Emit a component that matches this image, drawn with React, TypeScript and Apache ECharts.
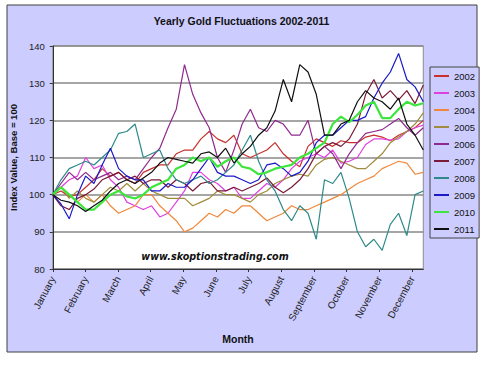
import React, { useEffect, useRef } from "react";
import * as echarts from "echarts";

const MONTHS = ["January", "February", "March", "April", "May", "June", "July", "August", "September", "October", "November", "December"];
const YEARS = ["2002", "2003", "2004", "2005", "2006", "2007", "2008", "2009", "2010", "2011"];
const Y_TICKS = [80, 90, 100, 110, 120, 130, 140];
// months covered by the plotted period and number of steps between samples
const SPAN = 11.35;
const STEPS = 45;

const v2002 = [100, 101, 99.5, 100, 102, 104, 107, 105, 106, 104, 103, 106, 107, 108, 108, 111, 112, 112, 115, 117, 115, 114, 116, 111, 110, 111, 112, 114, 111, 109, 107.5, 113, 115, 114, 113, 114.5, 114, 114, 115.5, 116, 115.5, 114.5, 116, 117, 118, 120];
const v2003 = [100, 102, 104, 105, 110, 107, 108, 104, 102, 98, 97, 96, 97, 94, 95, 98, 101, 106, 106, 104, 103, 101, 102, 99, 99, 101, 103, 102, 104, 107, 109, 110, 111, 110, 112, 108.5, 109, 110, 113.5, 115, 115, 114.7, 115, 117, 118, 118.7];
const v2004 = [100, 102, 100, 98, 100, 98, 100, 97, 95, 96, 97, 100, 100, 97, 95, 93, 90, 91, 93, 95, 94, 96, 95, 97, 97, 95, 93, 94, 95, 97, 96, 96, 97, 98, 99, 100, 101.5, 103, 104, 105, 107, 108, 109, 108.5, 105.5, 106];
const v2005 = [100, 102, 99, 101, 99, 98, 100, 102, 101, 103, 101, 103, 101, 100, 99, 99, 99, 97, 98, 99, 101, 100, 100, 99, 98, 100, 101, 103, 104, 105, 105.5, 105, 108, 109.5, 110, 109, 108, 107, 107, 109, 111, 114, 115.5, 117, 119, 122];
const v2006 = [100, 103, 106, 104, 106, 104, 105, 106, 104, 105, 104, 107, 110, 112.5, 118, 123, 135, 127, 122, 118, 110, 106, 112, 119, 123, 118, 117, 120, 119, 116, 116, 120, 111, 113, 111, 107, 111, 114, 116.5, 117, 117.5, 119, 120.5, 118, 116, 118];
const v2007 = [100, 97, 96, 99, 100, 101.5, 104, 105, 106, 104, 105, 103, 104, 104, 102, 104, 103, 101, 103, 103.5, 101, 101, 102, 101, 102, 103, 104.5, 102, 100.5, 102, 104, 107, 111, 113, 114, 113, 115, 119, 127, 131, 126, 128, 125.5, 128, 124.5, 129.5];
const v2008 = [100, 104, 107, 108, 109, 108, 110, 112, 116.5, 117, 119, 110, 111, 112, 107, 104, 103, 104, 105, 103, 104, 106, 108, 112, 116, 109, 104, 101, 96, 93, 97, 95, 88, 104, 103, 106, 99, 90, 86, 88, 85, 92, 95, 89, 100, 101];
const v2009 = [100, 97.5, 93.5, 100, 105, 103, 108, 112.5, 107, 105, 104, 104, 101, 101, 103, 102, 102, 104, 107, 110, 106, 105, 105, 104, 103, 104, 108, 108.5, 107, 105, 106, 109, 114, 116, 116, 118, 120, 120, 121, 126, 130, 133, 138, 131, 129, 125];
const v2010 = [100, 102, 100, 98, 96, 96, 98, 100, 101, 99.5, 99, 100, 102, 103, 104, 107, 108, 110, 109, 110, 107.5, 109, 110, 107.5, 107, 105.5, 106, 107, 107.5, 108, 110, 111, 112.5, 114, 119, 121, 119.5, 121.5, 124, 125, 120.6, 120.6, 123, 125, 124, 124.6];
const v2011 = [100, 98.5, 98, 97, 95.5, 97, 98.5, 101, 103, 104, 103, 104.5, 106, 108.5, 110, 109.5, 109, 108.5, 111, 111.5, 110, 112.5, 108.5, 111, 113, 116, 118, 122.5, 131, 125, 135, 133, 127, 116, 116, 119, 120, 125, 128, 126, 125, 123, 126, 119, 116, 112];

const COLORS = ["#C8322D", "#E040E0", "#F0883C", "#A08C3C", "#8E2A8E", "#7A1A38", "#2E8A8A", "#1A1AC8", "#3CE63C", "#101010"];

const FONT = "'Liberation Sans', Arial, sans-serif";

export default function App() {
  const ref = useRef<HTMLDivElement>(null);
  useEffect(() => {
    if (!ref.current) return;
    const chart = echarts.init(ref.current, undefined, { renderer: "svg" });
    const all = [v2002, v2003, v2004, v2005, v2006, v2007, v2008, v2009, v2010, v2011];
    const monthIdx = MONTHS.map((_, i) => i);
    const series = all.map((vals, k) => ({
      name: YEARS[k],
      type: "line",
      data: vals.map((v, i) => [(i * SPAN) / STEPS, v]),
      showSymbol: false,
      symbol: "none",
      silent: true,
      lineStyle: { color: COLORS[k], width: k === 8 ? 2.2 : 1.2 },
      itemStyle: { color: COLORS[k] },
      emphasis: { disabled: true },
    }));
    chart.setOption({
      animation: false,
      backgroundColor: "#ffffff",
      textStyle: { fontFamily: FONT },
      graphic: [
        {
          type: "rect",
          shape: { x: 7, y: 5, width: 470, height: 347 },
          style: { fill: "#CCCCFF", stroke: "#404040", lineWidth: 1 },
          z: -10,
          silent: true,
        },
        {
          type: "text",
          x: 215,
          y: 256,
          z: 100,
          silent: true,
          style: {
            text: "www.skoptionstrading.com",
            font: "italic bold 9.6px 'DejaVu Sans', Verdana, sans-serif",
            fill: "#111111",
            textAlign: "center",
            textVerticalAlign: "middle",
          },
        },
      ],
      title: {
        text: "Yearly Gold Fluctuations 2002-2011",
        left: "center",
        top: 15,
        padding: 0,
        textStyle: { fontFamily: FONT, fontSize: 10.5, fontWeight: "bold", color: "#111111" },
      },
      legend: {
        orient: "vertical",
        left: 430,
        top: 67,
        icon: "rect",
        itemWidth: 15,
        itemHeight: 2,
        itemGap: 7,
        padding: [4, 4, 4, 4],
        backgroundColor: "#CCCCFF",
        borderColor: "#444444",
        borderWidth: 1,
        selectedMode: false,
        textStyle: { fontFamily: FONT, fontSize: 9.5, color: "#111111" },
        data: YEARS,
      },
      grid: {
        left: 42.3,
        right: 59.7,
        top: 46,
        bottom: 98,
        show: true,
        backgroundColor: "#ffffff",
        borderColor: "#8c8c8c",
        borderWidth: 1,
      },
      xAxis: {
        type: "value",
        min: 0,
        max: SPAN,
        interval: 1,
        axisLine: { show: true, onZero: false, lineStyle: { color: "#333333", width: 1 } },
        axisTick: { show: true, length: 3, customValues: monthIdx, lineStyle: { color: "#333333" } },
        axisLabel: {
          customValues: monthIdx,
          formatter: (v: number) => MONTHS[Math.round(v)] ?? "",
          rotate: 62,
          fontSize: 10,
          color: "#222222",
          margin: 8,
          fontFamily: FONT,
        },
        splitLine: { show: false },
        name: "Month",
        nameLocation: "middle",
        nameGap: 64,
        nameTextStyle: { fontFamily: FONT, fontWeight: "bold", fontSize: 10.5, color: "#111111" },
      },
      yAxis: {
        type: "value",
        min: Y_TICKS[0],
        max: Y_TICKS[Y_TICKS.length - 1],
        interval: 10,
        axisLine: { show: true, lineStyle: { color: "#333333", width: 1 } },
        axisTick: { show: true, length: 3, lineStyle: { color: "#333333" } },
        axisLabel: { fontSize: 9.5, color: "#222222", margin: 8, fontFamily: FONT },
        splitLine: { show: true, lineStyle: { color: "#888888", width: 1.5 } },
        name: "Index Value, Base = 100",
        nameLocation: "middle",
        nameGap: 24,
        nameTextStyle: { fontFamily: FONT, fontWeight: "bold", fontSize: 9.5, color: "#111111" },
      },
      series,
    });
    return () => chart.dispose();
  }, []);
  return <div ref={ref} style={{ position: "fixed", left: 0, top: 0, width: 483, height: 367 }} />;
}
